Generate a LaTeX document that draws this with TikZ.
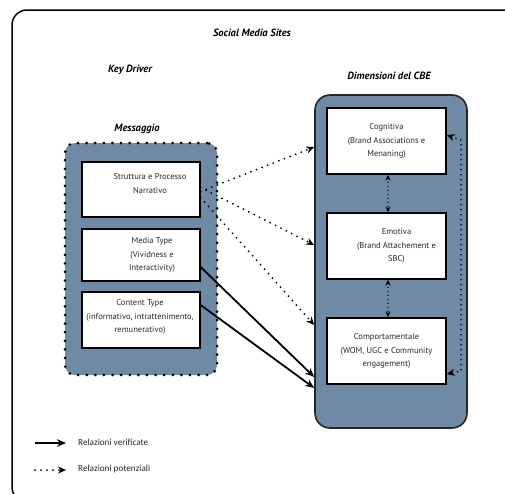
\documentclass[tikz,border=0pt]{standalone}
\usepackage{fontspec}
\setmainfont{PT Sans}
\newfontfamily\legfont{Carlito}
\usetikzlibrary{arrows.meta,calc}
\definecolor{panel}{RGB}{111,138,165}
\definecolor{boxtext}{RGB}{40,40,40}
\tikzset{
  whitebox/.style={draw=black, line width=1.3pt, fill=white, minimum width=118pt, inner sep=0pt},
  boxlabel/.style={align=center, text=boxtext, font=\fontsize{8.5}{13.3}\selectfont, inner sep=0pt},
  titletext/.style={font=\fontsize{10.5}{12}\selectfont\bfseries\itshape, inner sep=0pt},
  legtext/.style={font=\legfont\fontsize{9.2}{11}\selectfont, text=boxtext, anchor=west, inner sep=0pt},
  dotarrow/.style={line width=2pt, dash pattern=on 0pt off 6pt, line cap=round, -{Stealth[length=8pt,width=7pt]}},
  smalldot/.style={line width=1.5pt, dash pattern=on 0pt off 4pt, line cap=round, {Stealth[length=6pt,width=5pt]}-{Stealth[length=6pt,width=5pt]}},
  sidedot/.style={line width=1.8pt, dash pattern=on 0pt off 5pt, line cap=round, {Stealth[length=8pt,width=7pt]}-{Stealth[length=8pt,width=7pt]}},
  solidarrow/.style={line width=1.8pt, -{Stealth[length=9pt,width=7.5pt]}},
}
\begin{document}
\begin{tikzpicture}[x=1pt,y=-1pt]
\useasboundingbox (0,0) rectangle (505,493);
\begin{scope}
  \clip (0,0) rectangle (505,493);
  \draw[line width=1.5pt, rounded corners=15pt] (12,10) rectangle (540,502);
\end{scope}

% titles
\node[titletext] (smt) at (252,33) {Social Media Sites};
\node[titletext] (kd) at (130,70) {Key Driver};
\node[titletext] (dim) at (389,76) {Dimensioni del CBE};
\node[titletext] (msgt) at (137,129) {Messaggio};

% containers
\node[draw=black, fill=panel, line width=3pt, dash pattern=on 0pt off 8.6pt, line cap=round,
      rounded corners=10pt, minimum width=152pt, minimum height=232pt, inner sep=0pt] (msg) at (141,259) {};
\node[draw=black!85, fill=panel, line width=1.6pt, rounded corners=15pt,
      minimum width=152pt, minimum height=333pt, inner sep=0pt] (cbe) at (391,261.5) {};

% left boxes
\node[whitebox, minimum height=55pt] (b1) at (141,189.5) {};
\node[whitebox, minimum height=52pt] (b2) at (141,255) {};
\node[whitebox, minimum height=56pt] (b3) at (141,320) {};
\node[boxlabel] (b1t) at ([xshift=9pt,yshift=6pt]b1.center) {Struttura e Processo\\Narrativo};
\node[boxlabel] (b2t) at ([xshift=11pt]b2.center) {Media Type\\(Vividness e\\Interactivity)};
\node[boxlabel] (b3t) at ([xshift=-1pt,yshift=3pt]b3.center) {Content Type\\(informativo, intrattenimento,\\remunerativo)};

% right boxes
\node[whitebox, minimum width=119pt, minimum height=66pt] (cog) at (386.5,141) {};
\node[whitebox, minimum width=119pt, minimum height=66pt] (emo) at (386.5,246) {};
\node[whitebox, minimum width=119pt, minimum height=66pt] (com) at (386.5,351) {};
\node[boxlabel] (cogt) at (cog.center) {Cognitiva\\(Brand Associations e\\Menaning)};
\node[boxlabel] (emot) at ([xshift=10pt]emo.center) {Emotiva\\(Brand Attachement e\\SBC)};
\node[boxlabel] (comt) at (com.center) {Comportamentale\\(WOM, UGC e Community\\engagement)};

% arrows from left to right
\draw[dotarrow] ([yshift=-2pt]b1.east) -- (cbe.west |- 0,147);
\draw[dotarrow] ([yshift=2pt]b1.east) -- (cbe.west |- 0,245);
\draw[dotarrow] ([yshift=-8pt]b1.east) -- (cbe.west |- 0,325);
\draw[solidarrow] ([yshift=-12pt]b2.east) -- (cbe.west |- 0,377);
\draw[solidarrow] ([yshift=15pt]b3.east) -- (cbe.west |- 0,388);

% vertical relations
\draw[smalldot] ([xshift=1.5pt]cog.south) -- ([xshift=1.5pt]emo.north);
\draw[smalldot] ([xshift=1.5pt]emo.south) -- ([xshift=1.5pt]com.north);
\coordinate (rtop) at (461,140);
\coordinate (rbot) at (461,371);
\draw[sidedot] ([yshift=6pt]cog.east) -- (rtop) -- (rbot) -- ([yshift=-23pt]com.east);

% legend
\coordinate (l1a) at (35,443);
\coordinate (l1b) at (66,443);
\coordinate (l2a) at (35,470);
\coordinate (l2b) at (66,470);
\draw[solidarrow] (l1a) -- (l1b);
\draw[dotarrow] (l2a) -- (l2b);
\node[legtext] (l1t) at (78,442) {Relazioni verificate};
\node[legtext] (l2t) at (78,469) {Relazioni potenziali};
\end{tikzpicture}
\end{document}
